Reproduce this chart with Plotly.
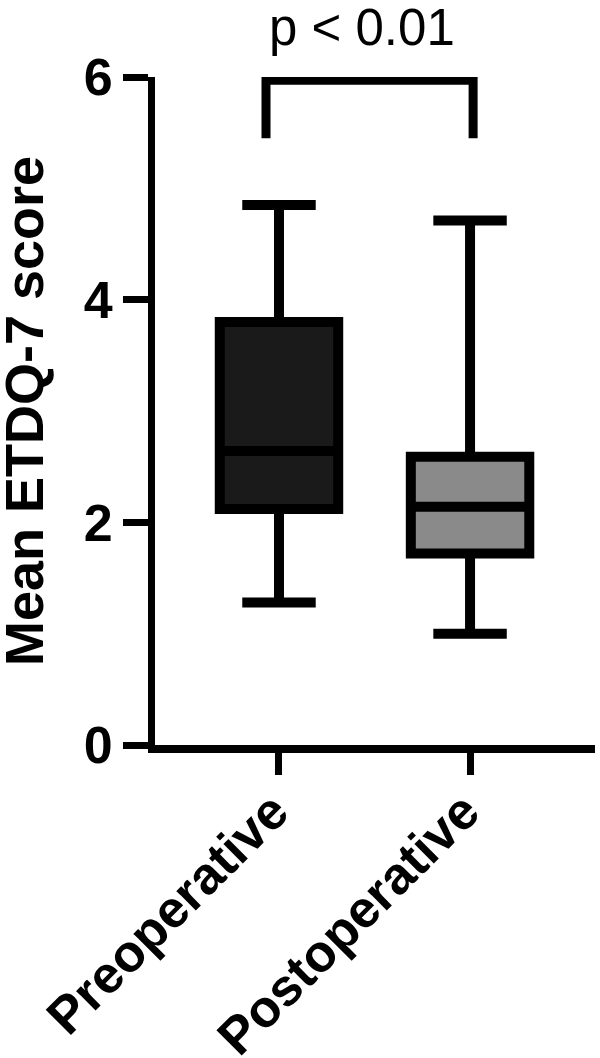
import plotly.graph_objects as go

# box statistics
categories = ["Preoperative", "Postoperative"]
positions = [0, 1]
lower_whisker = [1.28, 1.00]
q1 = [2.12, 1.72]
median = [2.64, 2.14]
q3 = [3.80, 2.59]
upper_whisker = [4.85, 4.71]
fill_colors = ["#1a1a1a", "#8a8a8a"]

# significance bracket
bracket_x = [-0.068, -0.068, 1.016, 1.016]
bracket_y = [5.45, 5.97, 5.97, 5.45]
p_label = "p < 0.01"
y_title = "Mean ETDQ-7 score"

FONT = "Liberation Sans, Arial, Helvetica, sans-serif"

fig = go.Figure()

for i in range(len(categories)):
    fig.add_trace(go.Box(
        x=[positions[i]],
        q1=[q1[i]],
        median=[median[i]],
        q3=[q3[i]],
        lowerfence=[lower_whisker[i]],
        upperfence=[upper_whisker[i]],
        width=0.62,
        whiskerwidth=0.62,
        fillcolor=fill_colors[i],
        line=dict(color="black", width=10),
        name=categories[i],
        showlegend=False,
        hoverinfo="skip",
    ))

fig.add_trace(go.Scatter(
    x=bracket_x, y=bracket_y,
    mode="lines",
    line=dict(color="black", width=9),
    showlegend=False,
    hoverinfo="skip",
))

fig.add_annotation(
    x=(bracket_x[0] + bracket_x[-1]) / 2, xref="x", xshift=-8,
    y=1.0, yref="paper", yshift=50,
    text=p_label, showarrow=False,
    yanchor="middle",
    font=dict(family=FONT, size=51, color="black"),
)

# y axis title placed by hand, closer to the page edge than plotly's own title
fig.add_annotation(
    x=0, xref="paper", xshift=-131, xanchor="center",
    y=0.5, yref="paper", yanchor="middle",
    text=y_title, textangle=-90, showarrow=False,
    font=dict(family=FONT, size=54, color="black", weight="bold"),
)

fig.update_layout(
    width=600, height=1058,
    margin=dict(l=155, r=5, t=77, b=313, autoexpand=False),
    paper_bgcolor="white", plot_bgcolor="white",
    boxmode="overlay",
    font=dict(family=FONT, color="black"),
)

fig.update_xaxes(
    range=[-0.649, 1.654],
    tickvals=positions, ticktext=categories,
    tickangle=-45,
    tickfont=dict(family=FONT, size=52, color="black", weight="bold"),
    ticklabelstandoff=-15, ticklabelshift=-6,
    showline=True, linecolor="black", linewidth=8,
    ticks="outside", ticklen=22, tickwidth=7, tickcolor="black",
    showgrid=False, zeroline=False,
)

fig.update_yaxes(
    range=[0, 6],
    tickvals=[0, 2, 4, 6],
    tickfont=dict(family=FONT, size=52, color="black", weight="bold"),
    showline=True, linecolor="black", linewidth=7,
    ticks="outside", ticklen=25, tickwidth=7, tickcolor="black",
    showgrid=False, zeroline=False,
)

# drop the browser's default 8px body margin so the figure fills the window
fig.write_html("out.html", config={"displayModeBar": False},
               post_script="document.body.style.margin = '0px';")
